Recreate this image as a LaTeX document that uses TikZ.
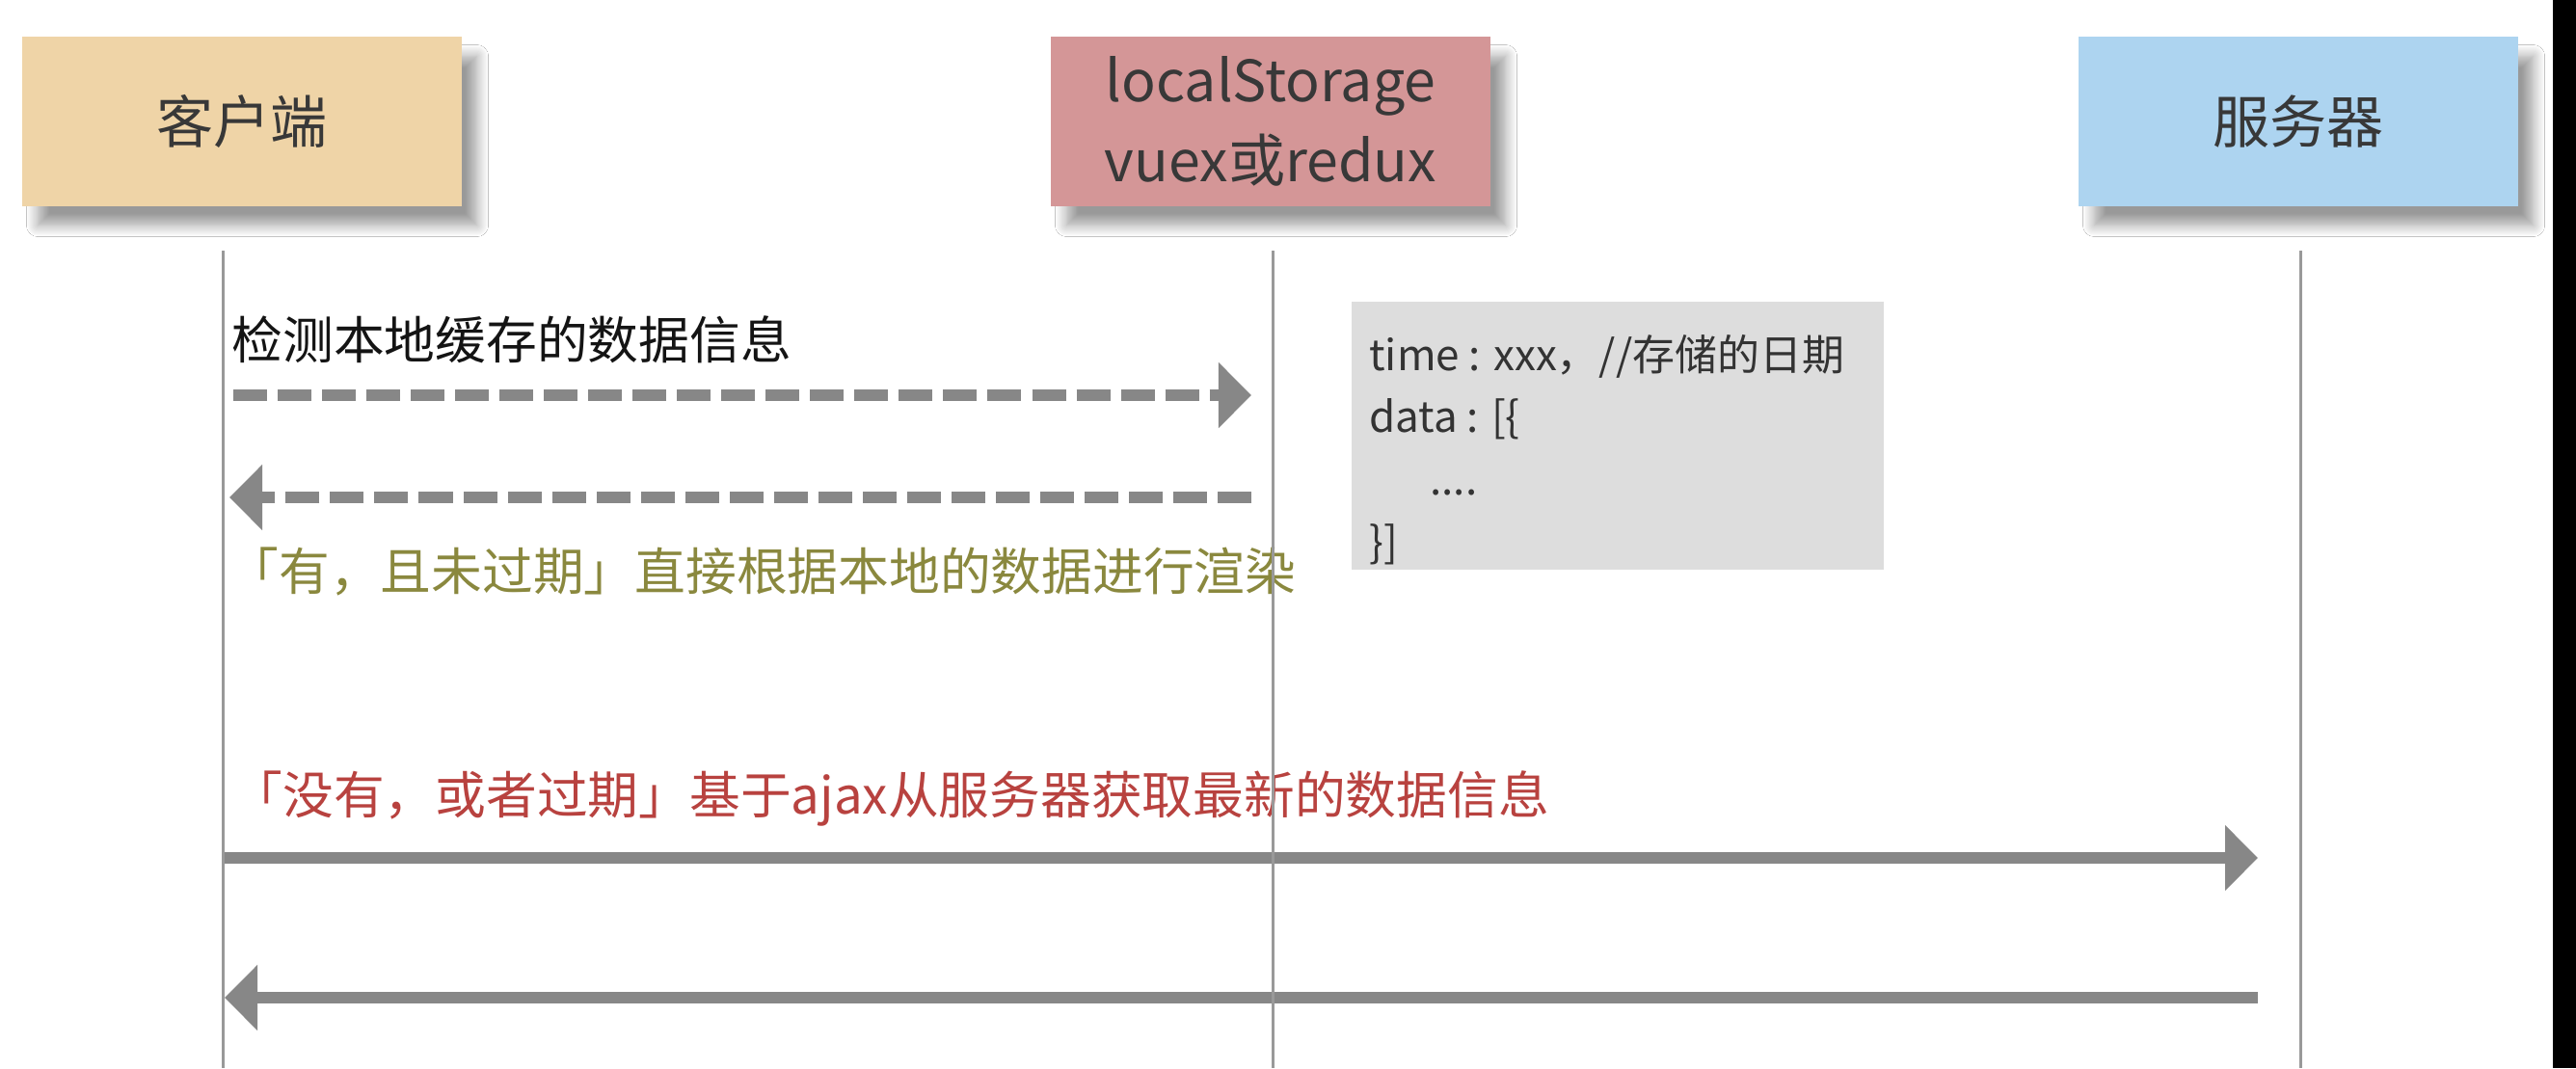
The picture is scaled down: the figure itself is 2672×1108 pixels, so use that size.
\documentclass[tikz,border=0pt]{standalone}
\usepackage{fontspec}
\setmainfont{Noto Sans CJK SC}
\usetikzlibrary{arrows.meta, positioning, shadows.blur}
\definecolor{clientfill}{HTML}{EFD4A7}
\definecolor{storefill}{HTML}{D49697}
\definecolor{serverfill}{HTML}{ADD4F0}
\definecolor{notefill}{HTML}{DDDDDD}
\definecolor{flowgray}{HTML}{878787}
\definecolor{hitgreen}{HTML}{8A883E}
\definecolor{missred}{HTML}{B8423F}

\begin{document}
\begin{tikzpicture}[
  x=0.01cm, y=-0.01cm,
  actor/.style={fill=#1, minimum width=4.55cm, minimum height=1.75cm, align=center,
    inner sep=0pt, text=black!78, font=\fontsize{16.8}{23.6}\selectfont,
    blur shadow={shadow xshift=0.16cm, shadow yshift=-0.2cm, shadow blur radius=0.12cm,
      shadow blur steps=12, shadow opacity=40}},
  note/.style={fill=notefill, minimum width=5.51cm, minimum height=2.78cm},
  fields/.style={anchor=north west, inner sep=0pt, align=left, text=black!80,
    font=\fontsize{12.5}{18.4}\selectfont},
  msg/.style={anchor=west, inner sep=0pt, font=\fontsize{15}{18}\selectfont},
  lifeline/.style={draw=black!40, line width=0.03cm},
  call/.style={draw=flowgray, line width=0.12cm, -{Triangle[length=0.34cm, width=0.66cm]}},
  check/.style={call, dash pattern=on 0.35cm off 0.11cm}
]
\useasboundingbox (0,0) rectangle (2672,1108);
\fill[white] (0,0) rectangle (2672,1108);

\node[actor=clientfill] (client) at (251,126) {客户端};
\node[actor=storefill] (store) at (1318,126) {localStorage\\vuex或redux};
\node[actor=serverfill] (server) at (2384,126) {服务器};

\node[note] (cache) at (1678,452) {};
\node[fields] (cache text) at ([shift={(18,34)}]cache.north west)
  {time : xxx，//存储的日期\\data : [\{\\\hspace*{0.63cm}....\\\}]};

\coordinate (c top) at (231,260);
\coordinate (c end) at (231,1108);
\coordinate (s top) at (1320,260);
\coordinate (s end) at (1320,1108);
\coordinate (v top) at (2386,260);
\coordinate (v end) at (2386,1108);

\coordinate (ask from) at (242,410);
\coordinate (ask to) at (1298,410);
\coordinate (hit from) at (1298,516);
\coordinate (hit to) at (238,516);
\coordinate (miss from) at (231,890);
\coordinate (miss to) at (2342,890);
\coordinate (back from) at (2342,1035);
\coordinate (back to) at (233,1035);

\node[msg, text=black!92] (ask) at (240,352) {检测本地缓存的数据信息};
\node[msg, text=hitgreen] (hit) at (236,593) {「有，且未过期」直接根据本地的数据进行渲染};
\node[msg, text=missred] (miss) at (240,828) {「没有，或者过期」基于ajax从服务器获取最新的数据信息};

\draw[check] (ask from) -- (ask to);
\draw[check] (hit from) -- (hit to);
\draw[call] (miss from) -- (miss to);
\draw[call] (back from) -- (back to);

\draw[lifeline] (c top) -- (c end);
\draw[lifeline] (s top) -- (s end);
\draw[lifeline] (v top) -- (v end);

\fill[black] (2648,0) rectangle (2672,1108);
\end{tikzpicture}
\end{document}
